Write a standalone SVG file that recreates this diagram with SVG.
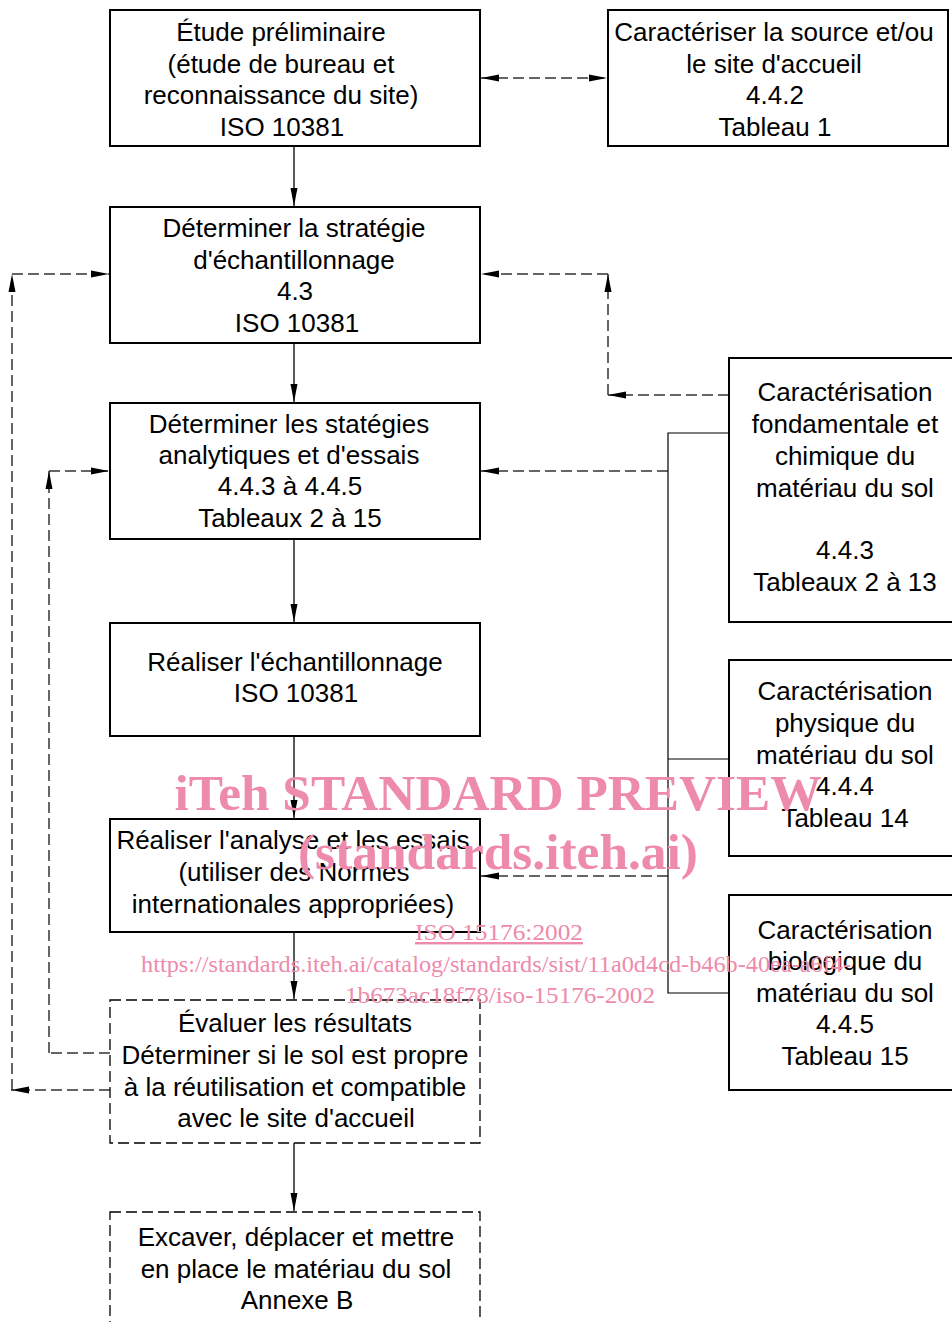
<svg xmlns="http://www.w3.org/2000/svg" width="952" height="1322" viewBox="0 0 952 1322">
<style>
.box{fill:#fff;stroke:#000;stroke-width:2}
.dbox{fill:#fff;stroke:#000;stroke-width:1.3;stroke-dasharray:11 5}
.t{font-family:"Liberation Sans",Arial,sans-serif;font-size:26px;fill:#000;text-anchor:middle}
.arr{stroke:#000;stroke-width:1.3;fill:none}
.dash{stroke:#333;stroke-width:1.5;fill:none;stroke-dasharray:11 5}
.thin{stroke:#000;stroke-width:1.2;fill:none}
.wm{font-family:"Liberation Serif","Times New Roman",serif;fill:#ee8aab;text-anchor:middle}
</style>
<defs>
<marker id="ah" markerUnits="userSpaceOnUse" markerWidth="18" markerHeight="8" refX="18" refY="4" orient="auto-start-reverse">
<path d="M0,0.5 L18,4 L0,7.5 z" fill="#000"/>
</marker>
</defs>
<rect width="952" height="1322" fill="#fff"/>
<g id="connectors">
<line class="arr" x1="294" y1="146" x2="294" y2="206" marker-end="url(#ah)"/>
<line class="arr" x1="294" y1="343" x2="294" y2="402" marker-end="url(#ah)"/>
<line class="arr" x1="294" y1="539" x2="294" y2="622" marker-end="url(#ah)"/>
<line class="arr" x1="294" y1="736" x2="294" y2="818" marker-end="url(#ah)"/>
<line class="arr" x1="294" y1="932" x2="294" y2="999" marker-end="url(#ah)"/>
<line class="arr" x1="294" y1="1143" x2="294" y2="1211" marker-end="url(#ah)"/>
<line class="dash" x1="481" y1="78" x2="607" y2="78" marker-start="url(#ah)" marker-end="url(#ah)"/>
<line class="dash" x1="110" y1="1090" x2="11" y2="1090" marker-end="url(#ah)"/>
<line class="dash" x1="12" y1="1090" x2="12" y2="274" marker-end="url(#ah)"/>
<line class="dash" x1="12" y1="274" x2="109" y2="274" marker-end="url(#ah)"/>
<line class="dash" x1="110" y1="1053" x2="49" y2="1053"/>
<line class="dash" x1="49" y1="1053" x2="49" y2="471" marker-end="url(#ah)"/>
<line class="dash" x1="49" y1="471" x2="109" y2="471" marker-end="url(#ah)"/>
<line class="dash" x1="729" y1="395" x2="608" y2="395" marker-end="url(#ah)"/>
<line class="dash" x1="608" y1="395" x2="608" y2="274" marker-end="url(#ah)"/>
<line class="dash" x1="608" y1="274" x2="481" y2="274" marker-end="url(#ah)"/>
<line class="dash" x1="668" y1="471" x2="481" y2="471" marker-end="url(#ah)"/>
<line class="dash" x1="668" y1="876" x2="481" y2="876" marker-end="url(#ah)"/>
<path class="thin" d="M729,433 H668 V993 H729 M668,759 H729"/>
</g>
<g id="n1"><rect class="box" x="110" y="10" width="370" height="136"/>
<text class="t" x="281" y="41">Étude préliminaire</text><text class="t" x="281" y="73">(étude de bureau et</text><text class="t" x="281" y="104">reconnaissance du site)</text><text class="t" x="282" y="136">ISO 10381</text></g>
<g id="n2"><rect class="box" x="608" y="10" width="340" height="136"/>
<text class="t" x="774" y="41">Caractériser la source et/ou</text><text class="t" x="774" y="73">le site d'accueil</text><text class="t" x="775" y="104">4.4.2</text><text class="t" x="775" y="136">Tableau 1</text></g>
<g id="n3"><rect class="box" x="110" y="207" width="370" height="136"/>
<text class="t" x="294" y="237">Déterminer la stratégie</text><text class="t" x="294" y="269">d'échantillonnage</text><text class="t" x="295" y="300">4.3</text><text class="t" x="297" y="332">ISO 10381</text></g>
<g id="n4"><rect class="box" x="110" y="403" width="370" height="136"/>
<text class="t" x="289" y="433">Déterminer les statégies</text><text class="t" x="289" y="464">analytiques et d'essais</text><text class="t" x="290" y="495">4.4.3 à 4.4.5</text><text class="t" x="290" y="527">Tableaux 2 à 15</text></g>
<g id="n5"><rect class="box" x="110" y="623" width="370" height="113"/>
<text class="t" x="295" y="671">Réaliser l'échantillonnage</text><text class="t" x="296" y="702">ISO 10381</text></g>
<g id="n6"><rect class="box" x="110" y="819" width="370" height="113"/>
<text class="t" x="293" y="849">Réaliser l'analyse et les essais</text><text class="t" x="294" y="881">(utiliser des Normes</text><text class="t" x="293" y="913">internationales appropriées)</text></g>
<g id="n7"><rect class="dbox" x="110" y="1000" width="370" height="143"/>
<text class="t" x="295" y="1032">Évaluer les résultats</text><text class="t" x="295" y="1064">Déterminer si le sol est propre</text><text class="t" x="295" y="1096">à la réutilisation et compatible</text><text class="t" x="296" y="1127">avec le site d'accueil</text></g>
<g id="n8"><rect class="dbox" x="110" y="1212" width="370" height="130"/>
<text class="t" x="296" y="1246">Excaver, déplacer et mettre</text><text class="t" x="296" y="1278">en place le matériau du sol</text><text class="t" x="297" y="1309">Annexe B</text></g>
<g id="r1"><rect class="box" x="729" y="358" width="240" height="264"/>
<text class="t" x="845" y="401">Caractérisation</text><text class="t" x="845" y="433">fondamentale et</text><text class="t" x="845" y="465">chimique du</text><text class="t" x="845" y="497">matériau du sol</text><text class="t" x="845" y="559">4.4.3</text><text class="t" x="845" y="591">Tableaux 2 à 13</text></g>
<g id="r2"><rect class="box" x="729" y="660" width="240" height="196"/>
<text class="t" x="845" y="700">Caractérisation</text><text class="t" x="845" y="732">physique du</text><text class="t" x="845" y="764">matériau du sol</text><text class="t" x="845" y="795">4.4.4</text><text class="t" x="845" y="827">Tableau 14</text></g>
<g id="r3"><rect class="box" x="729" y="895" width="240" height="195"/>
<text class="t" x="845" y="939">Caractérisation</text><text class="t" x="845" y="970">biologique du</text><text class="t" x="845" y="1002">matériau du sol</text><text class="t" x="845" y="1033">4.4.5</text><text class="t" x="845" y="1065">Tableau 15</text></g>
<g id="watermark">
<text class="wm" x="498" y="810" font-size="50" font-weight="bold" textLength="647" lengthAdjust="spacingAndGlyphs">iTeh STANDARD PREVIEW</text>
<text class="wm" x="498" y="869" font-size="50" font-weight="bold" textLength="400" lengthAdjust="spacingAndGlyphs">(standards.iteh.ai)</text>
<text class="wm" x="499" y="940" font-size="24" text-decoration="underline" textLength="168" lengthAdjust="spacingAndGlyphs">ISO 15176:2002</text>
<text class="wm" x="496" y="972" font-size="24" textLength="710" lengthAdjust="spacingAndGlyphs">https://standards.iteh.ai/catalog/standards/sist/11a0d4cd-b46b-40ea-a6f4-</text>
<text class="wm" x="500" y="1003" font-size="24" textLength="310" lengthAdjust="spacingAndGlyphs">1b673ac18f78/iso-15176-2002</text>
</g>
</svg>
